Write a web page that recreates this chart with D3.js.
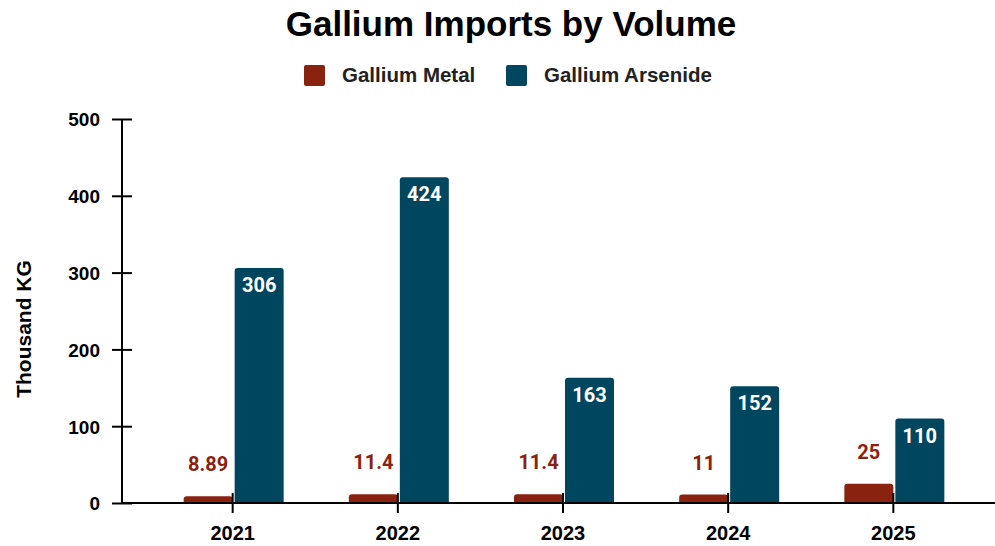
<!DOCTYPE html>
<html>
<head>
<meta charset="utf-8">
<script src="https://cdn.jsdelivr.net/npm/d3@7/dist/d3.min.js"></script>
<style>
  html, body { margin: 0; padding: 0; background: #fff; }
  svg { display: block; }
</style>
</head>
<body>
<svg id="chart" width="995" height="546"></svg>
<script>
// Gallium imports, thousand kg
const years = ["2021", "2022", "2023", "2024", "2025"];
const galliumMetal = [8.89, 11.4, 11.4, 11, 25];
const galliumArsenide = [306, 424, 163, 152, 110];
const metalLabels = ["8.89", "11.4", "11.4", "11", "25"];
const arsenideLabels = ["306", "424", "163", "152", "110"];
const yTicks = [0, 100, 200, 300, 400, 500];
const seriesNames = ["Gallium Metal", "Gallium Arsenide"];
const seriesColors = ["#8a2210", "#00465f"];

const svg = d3.select("#chart");
const sansBold = "'Liberation Sans', Arial, sans-serif";
const numFont = "Roboto, 'Liberation Sans', sans-serif";

const x0 = 122, yBase = 503, yTop = 119;
const x = d3.scaleBand().domain(years).range([x0, 1004]).paddingOuter(0.17).paddingInner(0);
const y = d3.scaleLinear().domain([0, 500]).range([yBase, yTop]);
const barW = 49;

// Title
svg.append("text")
  .attr("x", 511).attr("y", 36)
  .attr("text-anchor", "middle")
  .attr("font-family", sansBold).attr("font-weight", "bold")
  .attr("font-size", 35).attr("fill", "#000")
  .text("Gallium Imports by Volume");

// Legend
const legendX = [304, 506];
seriesNames.forEach((name, i) => {
  const g = svg.append("g").attr("transform", `translate(${legendX[i]},65)`);
  g.append("rect").attr("width", 21).attr("height", 21).attr("rx", 2).attr("fill", seriesColors[i]);
  g.append("text").attr("x", 38).attr("y", 17)
    .attr("font-family", sansBold).attr("font-weight", "bold")
    .attr("font-size", 20.5).attr("fill", "#222").text(name);
});

// Y axis title
svg.append("text")
  .attr("transform", "translate(31,329) rotate(-90)")
  .attr("text-anchor", "middle")
  .attr("font-family", sansBold).attr("font-weight", "bold")
  .attr("font-size", 21).attr("fill", "#000")
  .text("Thousand KG");

// Bars with rounded top corners
function topRounded(xl, yt, w, h, r) {
  r = Math.min(r, h, w / 2);
  return `M${xl},${yt + h}V${yt + r}Q${xl},${yt} ${xl + r},${yt}H${xl + w - r}Q${xl + w},${yt} ${xl + w},${yt + r}V${yt + h}Z`;
}
const center = d => x(d) + x.bandwidth() / 2;
const metalLeft = d => center(d) - barW;
const arsenideLeft = d => center(d) + 2;

const bars = svg.append("g");
bars.selectAll("path.metal").data(years).join("path")
  .attr("class", "metal")
  .attr("d", (d, i) => topRounded(metalLeft(d), y(galliumMetal[i]), barW, yBase - y(galliumMetal[i]), 3))
  .attr("fill", seriesColors[0]);
bars.selectAll("path.arsenide").data(years).join("path")
  .attr("class", "arsenide")
  .attr("d", (d, i) => topRounded(arsenideLeft(d), y(galliumArsenide[i]), barW, yBase - y(galliumArsenide[i]), 3))
  .attr("fill", seriesColors[1]);

// Value labels
svg.append("g").selectAll("text").data(years).join("text")
  .attr("x", d => metalLeft(d) + barW / 2)
  .attr("y", (d, i) => y(galliumMetal[i]) - 25)
  .attr("text-anchor", "middle")
  .attr("font-family", numFont).attr("font-weight", "bold")
  .attr("font-size", 20).attr("fill", seriesColors[0])
  .text((d, i) => metalLabels[i]);
svg.append("g").selectAll("text").data(years).join("text")
  .attr("x", d => arsenideLeft(d) + barW / 2)
  .attr("y", (d, i) => y(galliumArsenide[i]) + 24)
  .attr("text-anchor", "middle")
  .attr("font-family", numFont).attr("font-weight", "bold")
  .attr("font-size", 20).attr("fill", "#fff")
  .text((d, i) => arsenideLabels[i]);

// Y axis
const yAxis = svg.append("g").attr("transform", `translate(${x0},0)`)
  .call(d3.axisLeft(y).tickValues(yTicks).tickSize(10).tickSizeOuter(0));
yAxis.select(".domain").attr("stroke", "#000").attr("stroke-width", 2).attr("d", `M0,${yBase}V${yTop}`);
yAxis.selectAll(".tick line").attr("x1", -10).attr("x2", 10).attr("stroke", "#000").attr("stroke-width", 2);
yAxis.selectAll(".tick text")
  .attr("font-family", sansBold).attr("font-weight", "bold")
  .attr("font-size", 19).attr("fill", "#000").attr("x", -22).attr("dy", "0.36em");

// X axis
const xAxis = svg.append("g").attr("transform", `translate(0,${yBase})`)
  .call(d3.axisBottom(x).tickSize(10).tickSizeOuter(0));
xAxis.select(".domain").attr("stroke", "#000").attr("stroke-width", 2).attr("d", `M${x0},0H995`);
xAxis.selectAll(".tick line").attr("y1", -10).attr("y2", 10).attr("stroke", "#000").attr("stroke-width", 2);
xAxis.selectAll(".tick text")
  .attr("font-family", sansBold).attr("font-weight", "bold")
  .attr("font-size", 20).attr("fill", "#000").attr("y", 37).attr("dy", null);
</script>
</body>
</html>
